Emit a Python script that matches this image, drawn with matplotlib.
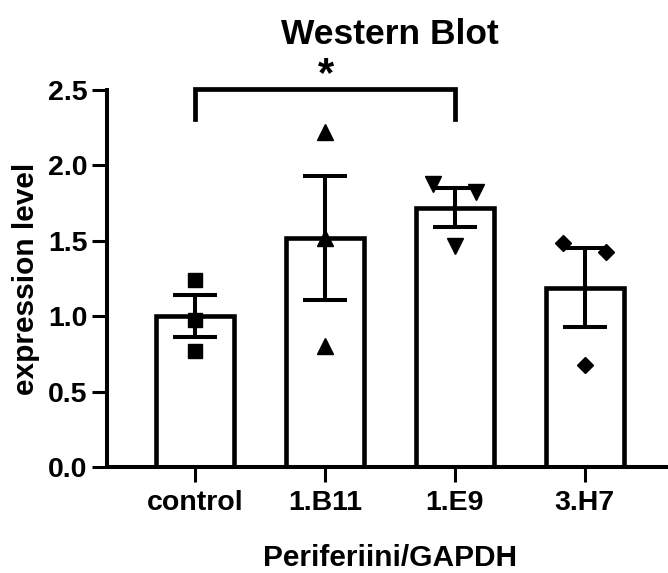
import matplotlib
matplotlib.use("Agg")
import matplotlib.pyplot as plt

plt.rcParams['font.family'] = ['Liberation Sans', 'DejaVu Sans']
plt.rcParams['font.weight'] = 'bold'

# values
groups = ["control", "1.B11", "1.E9", "3.H7"]
means = [1.00, 1.52, 1.72, 1.19]
sems = [0.14, 0.41, 0.13, 0.26]
markers = ["s", "^", "v", "D"]
marker_sizes = [10, 11, 11, 8]

# replicate points: (offset from group centre, value)
points = [
    [(0.0, 1.24), (0.0, 0.975), (0.0, 0.77)],
    [(0.0, 2.22), (0.0, 1.52), (0.0, 0.80)],
    [(-0.167, 1.875), (0.167, 1.825), (0.0, 1.467)],
    [(-0.17, 1.483), (0.167, 1.423), (0.0, 0.676)],
]

fig = plt.figure(figsize=(6.68, 5.73), dpi=100)
ax = fig.add_axes([0.160, 0.185, 0.847, 0.658])

x = list(range(len(groups)))
ax.bar(x, means, width=0.6, color="white", edgecolor="black",
       linewidth=3.3, zorder=2)
ax.errorbar(x, means, yerr=sems, fmt="none", ecolor="black",
            elinewidth=2.9, capsize=15.5, capthick=2.9, zorder=3)

for i, pts in enumerate(points):
    xs = [i + dx for dx, _ in pts]
    ys = [v for _, v in pts]
    ax.plot(xs, ys, linestyle="none", marker=markers[i],
            markersize=marker_sizes[i], color="black", zorder=4, clip_on=False)

# significance bracket control vs 1.E9
ax.plot([0, 0, 2, 2], [2.31, 2.505, 2.505, 2.31], color="black",
        linewidth=3.4, solid_joinstyle="miter", clip_on=False, zorder=5)
ax.text(1.01, 2.60, "*", ha="center", va="center", fontsize=30,
        fontweight="bold")

ax.set_xlim(-0.677, 3.677)
ax.set_ylim(0, 2.5)
ax.set_yticks([0.0, 0.5, 1.0, 1.5, 2.0, 2.5])
ax.set_yticklabels(["0.0", "0.5", "1.0", "1.5", "2.0", "2.5"])
ax.set_xticks(x)
ax.set_xticklabels(groups)

for side in ["top", "right"]:
    ax.spines[side].set_visible(False)
for side in ["left", "bottom"]:
    ax.spines[side].set_linewidth(2.9)

ax.tick_params(axis="both", which="major", direction="out", length=10.8,
               width=2.2, labelsize=20.5)
ax.tick_params(axis="y", pad=3)
ax.tick_params(axis="x", pad=6)

ax.set_ylabel("expression level", fontsize=21.5, fontweight="bold", labelpad=6)
ax.set_xlabel("Periferiini/GAPDH", fontsize=21.5, fontweight="bold", labelpad=20)
ax.set_title("Western Blot", fontsize=25.5, fontweight="bold", pad=33)

fig.savefig("out.png", dpi=100)
